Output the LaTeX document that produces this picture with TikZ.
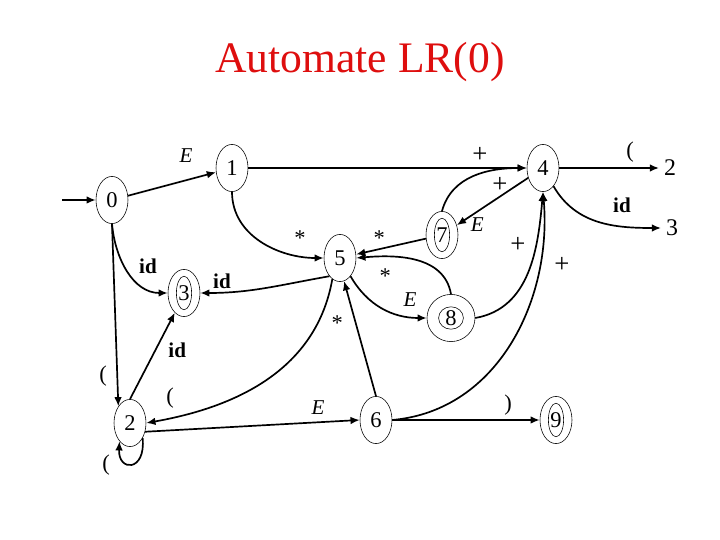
\documentclass[tikz,border=0pt]{standalone}
\usepackage{fontspec}
\setmainfont{Liberation Serif}
\usepackage{xcolor}
\usepackage{tikz}
\usetikzlibrary{arrows.meta,shapes.geometric}
\definecolor{titlered}{RGB}{222,14,14}
\tikzset{
  st/.style ={draw, ellipse, inner sep=0pt, minimum width=8mm, minimum height=11.8mm, font=\fontsize{16}{19}\selectfont},
  acc/.style={st, path picture={\draw (path picture bounding box.center) ellipse (1.9mm and 4.2mm);}},
  acc8/.style={st, minimum width=12mm, minimum height=11.8mm, path picture={\draw (path picture bounding box.center) ellipse (3.1mm and 2.8mm);}},
  arr/.style={-{Latex[length=2.3mm,width=1.9mm]}, line width=1.2pt},
  lab/.style={font=\fontsize{16}{19}\selectfont},
  pl/.style ={font=\fontsize{19}{22}\selectfont},
  idl/.style={font=\fontsize{15}{18}\selectfont\bfseries},
  el/.style ={font=\fontsize{15}{18}\selectfont\itshape},
}
\begin{document}
\begin{tikzpicture}
  \useasboundingbox (0,0) rectangle (18,13.5);
  \node[text=titlered, font=\fontsize{31}{37}\selectfont] (title) at (9,11.95) {Automate LR(0)};
  % states
  \node[st]   (s0) at (2.8,8.5)    {0};
  \node[st]   (s1) at (5.8,9.3)    {1};
  \node[acc]  (s3) at (4.6,6.175)  {3};
  \node[st]   (s5) at (8.5,7.05)   {5};
  \node[st]   (s4) at (13.575,9.3) {4};
  \node[acc]  (s7) at (11.05,7.625){7};
  \node[acc8] (s8) at (11.275,5.55){8};
  \node[st]   (s2) at (3.25,2.925) {2};
  \node[st]   (s6) at (9.4,3.0)    {6};
  \node[acc]  (s9) at (13.9,3.0)   {9};
  \node[font=\fontsize{17}{20}\selectfont] (t2) at (16.75,9.3) {2};
  \node[font=\fontsize{17}{20}\selectfont] (t3) at (16.8,7.8)  {3};
  \coordinate (start) at (1.55,8.5);
  % transitions
  \draw[arr] (start) -- (s0);
  \draw[arr] (s0) -- (s1);
  \draw[arr] (s1) -- (s4);
  \draw[arr] (s4) -- (s7);
  \draw[arr] (s7.north) to[out=75,in=180] (s4.west);
  \draw[arr] (s4) -- (t2);
  \draw[arr] (s4.-60) to[out=-60,in=180] (t3);
  \draw[arr] (s7) -- (s5);
  \draw[arr] (s1.south) to[out=-90,in=180] (s5.west);
  \draw[arr] (s5.-120) to[out=190,in=0] (s3.east);
  \draw[arr] (s0.south) to[out=-85,in=180] (s3.west);
  \draw[arr] (s0.south) -- (s2.125);
  \draw[arr] (s2.north) -- (s3.-115);
  \draw[arr] (s5.-110) to[out=-100,in=10] (s2.east);
  \draw[arr] (s2.-30) -- (s6.west);
  \draw[arr] (s2.-50) .. controls (3.65,1.7) and (2.95,1.7) .. (s2.-120);
  \draw[arr] (s6.north) -- (s5.-80);
  \draw[arr] (s5.-60) to[out=-60,in=180] (s8.west);
  \draw[arr] (s8.north) to[out=100,in=5] (s5.east);
  \draw[arr] (s8.east) to[out=10,in=-95] (s4.south);
  \draw[arr] (s6.east) to[out=5,in=-85] (s4.south);
  \draw[arr] (s6) -- (s9);
  % labels
  \node[el]  (lE01) at (4.65,9.6)   {E};
  \node[pl]  (lp14) at (12.0,9.62)  {+};
  \node[pl]  (lp47) at (12.5,8.88)  {+};
  \node[el]  (lE47) at (11.93,7.88) {E};
  \node[lab] (lo42) at (15.75,9.7)  {(};
  \node[idl] (li43) at (15.55,8.38) {id};
  \node[lab] (ls75) at (9.48,7.55)  {*};
  \node[lab] (ls15) at (7.5,7.55)   {*};
  \node[idl] (li53) at (5.55,6.47)  {id};
  \node[idl] (li03) at (3.7,6.85)   {id};
  \node[lab] (lo02) at (2.58,4.1)   {(};
  \node[idl] (li23) at (4.43,4.75)  {id};
  \node[lab] (lo52) at (4.25,3.55)  {(};
  \node[el]  (lE26) at (7.95,3.3)   {E};
  \node[lab] (lo22) at (2.65,1.88)  {(};
  \node[lab] (ls65) at (8.43,5.42)  {*};
  \node[el]  (lE58) at (10.25,6.0)  {E};
  \node[lab] (ls85) at (9.63,6.6)   {*};
  \node[pl]  (lp84) at (12.95,7.38) {+};
  \node[pl]  (lp64) at (14.05,6.88) {+};
  \node[lab] (lc69) at (12.7,3.38)  {)};
\end{tikzpicture}
\end{document}
